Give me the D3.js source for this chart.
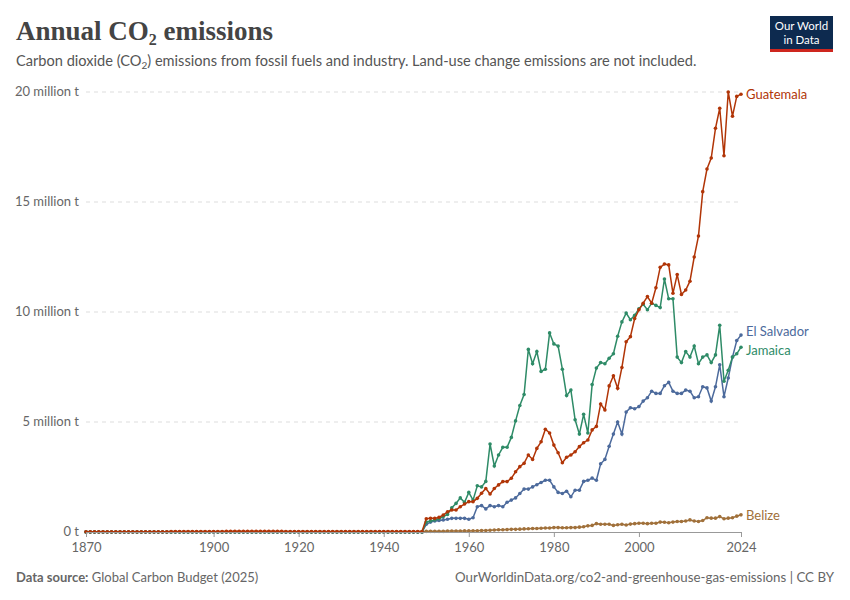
<!DOCTYPE html>
<html><head><meta charset="utf-8">
<script src="https://cdn.jsdelivr.net/npm/d3@7"></script>
<style>body{margin:0;background:#fff;font-family:Lato,"Noto Sans",sans-serif}</style>
</head><body><svg id="c" width="850" height="600"></svg>
<script>
const earlyYears = d3.range(1870, 1950);
const earlyGuatemala = [0.01,0.01,0.01,0.01,0.01,0.01,0.01,0.01,0.01,0.01,0.01,0.01,0.01,0.01,0.01,0.01,0.01,0.01,0.01,0.01,0.02,0.02,0.02,0.02,0.02,0.02,0.02,0.02,0.02,0.02,0.02,0.02,0.02,0.03,0.03,0.03,0.03,0.03,0.03,0.03,0.03,0.03,0.03,0.03,0.03,0.03,0.03,0.02,0.02,0.02,0.02,0.02,0.02,0.02,0.02,0.02,0.02,0.02,0.02,0.02,0.02,0.02,0.02,0.02,0.02,0.02,0.02,0.02,0.02,0.02,0.02,0.02,0.02,0.02,0.02,0.02,0.02,0.02,0.02,0.02];
const years = d3.range(1950, 2025);
const guatemala = [0.6,0.62,0.62,0.67,0.77,0.92,1.0,1.0,1.15,1.27,1.38,1.38,1.53,1.76,1.98,1.73,1.98,2.14,2.29,2.29,2.44,2.74,2.97,3.12,3.5,3.3,3.8,4.1,4.67,4.5,3.95,3.6,3.15,3.4,3.5,3.65,3.88,4.06,4.18,4.64,4.8,5.82,5.55,6.64,7.1,6.53,7.48,8.65,8.88,9.7,10.1,10.4,10.7,10.4,11.1,12.03,12.18,12.14,10.85,11.7,10.8,11.0,11.4,12.5,13.45,15.47,16.5,17.0,18.35,19.26,17.1,20.0,18.9,19.8,19.9];
const elSalvador = [0.35,0.45,0.5,0.52,0.55,0.58,0.62,0.62,0.62,0.62,0.58,0.65,1.15,1.2,1.05,1.2,1.15,1.2,1.15,1.35,1.45,1.55,1.75,1.95,1.95,2.05,2.15,2.25,2.35,2.35,2.05,1.8,1.75,1.85,1.6,1.9,1.9,2.3,2.35,2.45,2.35,3.1,3.3,3.9,4.45,5.0,4.45,5.45,5.65,5.6,5.7,5.95,6.1,6.4,6.3,6.3,6.65,6.8,6.4,6.3,6.3,6.45,6.4,6.1,6.15,6.6,6.55,5.95,6.6,7.6,6.15,7.0,7.95,8.7,8.95];
const jamaica = [0.45,0.5,0.55,0.6,0.7,0.8,1.1,1.3,1.55,1.35,1.8,1.45,2.1,2.05,2.3,4.0,3.0,3.5,3.85,3.85,4.3,5.05,5.75,6.25,8.3,7.65,8.2,7.3,7.4,9.05,8.55,8.45,7.4,6.2,6.45,5.1,4.45,5.35,4.5,6.7,7.45,7.7,7.65,7.9,8.1,8.9,9.55,9.95,9.65,9.85,10.15,10.35,10.1,10.4,10.3,10.2,11.5,10.6,10.6,7.95,7.7,8.2,7.95,8.45,7.65,7.95,8.05,7.7,8.05,9.4,6.85,7.35,7.95,8.1,8.4];
const belize = [0.03,0.03,0.03,0.03,0.03,0.04,0.04,0.04,0.04,0.05,0.05,0.06,0.06,0.07,0.07,0.08,0.09,0.1,0.1,0.11,0.12,0.12,0.13,0.14,0.15,0.16,0.16,0.17,0.18,0.18,0.2,0.2,0.19,0.19,0.2,0.2,0.22,0.24,0.28,0.3,0.38,0.35,0.35,0.35,0.3,0.33,0.35,0.32,0.36,0.38,0.4,0.4,0.38,0.4,0.4,0.45,0.44,0.42,0.45,0.48,0.48,0.5,0.55,0.5,0.48,0.52,0.65,0.63,0.63,0.7,0.6,0.63,0.65,0.72,0.78];
const yTicks = [0,5,10,15,20];
const yTickLabels = ["0 t","5 million t","10 million t","15 million t","20 million t"];
const xTicks = [1870,1900,1920,1940,1960,1980,2000,2024];

const series = [
  {name:"Belize", color:"#a0703a", early:earlyGuatemala.map(()=>0), vals:belize, ly:516},
  {name:"El Salvador", color:"#4c6a9c", early:earlyGuatemala.map(()=>0), vals:elSalvador, ly:332},
  {name:"Jamaica", color:"#2e8b67", early:earlyGuatemala.map(()=>0), vals:jamaica, ly:351},
  {name:"Guatemala", color:"#b13507", early:earlyGuatemala, vals:guatemala, ly:95},
];

const svg = d3.select("#c");
const x = d3.scaleLinear().domain([1870,2024]).range([86,741]);
const y = d3.scaleLinear().domain([0,20]).range([532,92]);

svg.append("text").attr("x",16).attr("y",40).attr("font-family","'Liberation Serif','DejaVu Serif',serif").attr("font-weight","bold").attr("font-size",27).attr("fill","#444")
  .html('Annual CO<tspan font-size="16" dy="5">2</tspan><tspan dy="-5"> emissions</tspan>');
svg.append("text").attr("x",16).attr("y",66).attr("font-size",14.6).attr("fill","#555")
  .html('Carbon dioxide (CO<tspan font-size="10" dy="3">2</tspan><tspan dy="-3">) emissions from fossil fuels and industry. Land-use change emissions are not included.</tspan>');
// logo
svg.append("rect").attr("x",770).attr("y",16).attr("width",63).attr("height",34).attr("fill","#0d2a4f");
svg.append("rect").attr("x",770).attr("y",49).attr("width",63).attr("height",3).attr("fill","#ce261e");
svg.append("text").attr("x",801.5).attr("y",30).attr("text-anchor","middle").attr("fill","#fff").attr("font-size",11.5).text("Our World");
svg.append("text").attr("x",801.5).attr("y",44).attr("text-anchor","middle").attr("fill","#fff").attr("font-size",11.5).text("in Data");

const g = svg.append("g");
yTicks.forEach((t,i)=>{
  if(t>0) g.append("line").attr("x1",86).attr("x2",741).attr("y1",y(t)).attr("y2",y(t)).attr("stroke","#ddd").attr("stroke-dasharray","4,4");
  g.append("text").attr("x",79).attr("y",y(t)+4).attr("text-anchor","end").attr("font-size",13).attr("fill","#666").text(yTickLabels[i]);
});
const xa = svg.append("g").attr("transform","translate(0,532)").call(d3.axisBottom(x).tickValues(xTicks).tickFormat(d3.format("d")).tickSize(5).tickSizeOuter(0));
xa.select(".domain").attr("stroke","#999");
xa.selectAll(".tick line").attr("stroke","#999");
xa.selectAll("text").attr("font-size",13).attr("fill","#666").attr("font-family","Lato,sans-serif").attr("dy","0.9em");

const line = d3.line().x(d=>x(d[0])).y(d=>y(d[1]));
series.forEach(s=>{
  const data = earlyYears.map((yr,i)=>[yr,s.early[i]]).concat(years.map((yr,i)=>[yr,s.vals[i]]));
  g.append("path").datum(data).attr("d",line).attr("fill","none").attr("stroke",s.color).attr("stroke-width",1.5);
  g.selectAll(null).data(data).join("circle").attr("cx",d=>x(d[0])).attr("cy",d=>y(d[1])).attr("r",1.8).attr("fill",s.color);
  g.append("text").attr("x",746).attr("y",s.ly+4).attr("font-size",13).attr("fill",s.color).text(s.name);
});

svg.append("text").attr("x",16).attr("y",582).attr("font-size",13).attr("fill","#666")
  .html('<tspan font-weight="bold">Data source:</tspan> Global Carbon Budget (2025)');
svg.append("text").attr("x",834).attr("y",582).attr("text-anchor","end").attr("font-size",13.3).attr("fill","#666")
  .text("OurWorldinData.org/co2-and-greenhouse-gas-emissions | CC BY");
</script></body></html>
